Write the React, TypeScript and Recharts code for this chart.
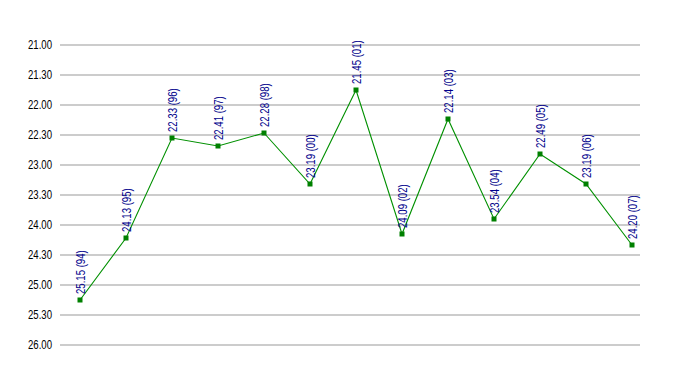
import { LineChart, Line, XAxis, YAxis, CartesianGrid, LabelList } from 'recharts'

// race times as shown (minutes.seconds) and the season they belong to
const seasons = ['94', '95', '96', '97', '98', '00', '01', '02', '03', '04', '05', '06', '07']
const times = ['25.15', '24.13', '22.33', '22.41', '22.28', '23.19', '21.45', '24.09', '22.14', '23.54', '22.49', '23.19', '24.20']
const yTicks = [1260, 1290, 1320, 1350, 1380, 1410, 1440, 1470, 1500, 1530, 1560]

const toSeconds = (t: string) => {
  const [m, s] = t.split('.')
  return Number(m) * 60 + Number(s)
}

const fmt = (sec: number) => {
  const m = Math.floor(sec / 60)
  const s = sec % 60
  return `${m}.${String(s).padStart(2, '0')}`
}

const data = seasons.map((season, i) => ({
  season,
  time: toSeconds(times[i]),
  label: `${times[i]} (${season})`,
}))

// no Arial Narrow in the sandbox, so squeeze Liberation Sans a bit
const FONT = '"Liberation Sans", Arial, sans-serif'
const SQUEEZE = 0.8

function SquareDot(props: any) {
  const { cx, cy } = props
  if (cx == null || cy == null) return null
  return <rect x={cx - 2.5} y={cy - 2.5} width={5} height={5} fill="#008000" />
}

function YTick(props: any) {
  const { x, y, payload } = props
  return (
    <text
      transform={`translate(${x} ${y}) scale(${SQUEEZE} 1)`}
      textAnchor="end"
      dy="0.355em"
      fontSize={12}
      fontFamily={FONT}
      fill="#000"
    >
      {fmt(payload.value)}
    </text>
  )
}

function VerticalLabel(props: any) {
  const { x, y, value } = props
  const tx = x + 5
  const ty = y - 6
  return (
    <text
      transform={`translate(${tx} ${ty}) rotate(-90) scale(${SQUEEZE} 1)`}
      textAnchor="start"
      fontSize={12}
      fontFamily={FONT}
      fill="#00008b"
    >
      {value}
    </text>
  )
}

export default function App() {
  return (
    <div style={{ position: 'absolute', left: 0, top: 0, background: '#fff' }}>
      <LineChart width={680} height={375} data={data} margin={{ top: 45, right: 40, bottom: 30, left: 0 }}>
        <CartesianGrid vertical={false} stroke="#999999" strokeWidth={1} />
        <XAxis dataKey="season" hide padding={{ left: 20, right: 8 }} />
        <YAxis
          type="number"
          domain={[1260, 1560]}
          ticks={yTicks}
          reversed
          width={60}
          axisLine={false}
          tickLine={false}
          tick={<YTick />}
          interval={0}
        />
        <Line
          type="linear"
          dataKey="time"
          stroke="#009000"
          strokeWidth={1.1}
          dot={<SquareDot />}
          activeDot={false}
          isAnimationActive={false}
        >
          <LabelList dataKey="label" content={<VerticalLabel />} />
        </Line>
      </LineChart>
    </div>
  )
}
